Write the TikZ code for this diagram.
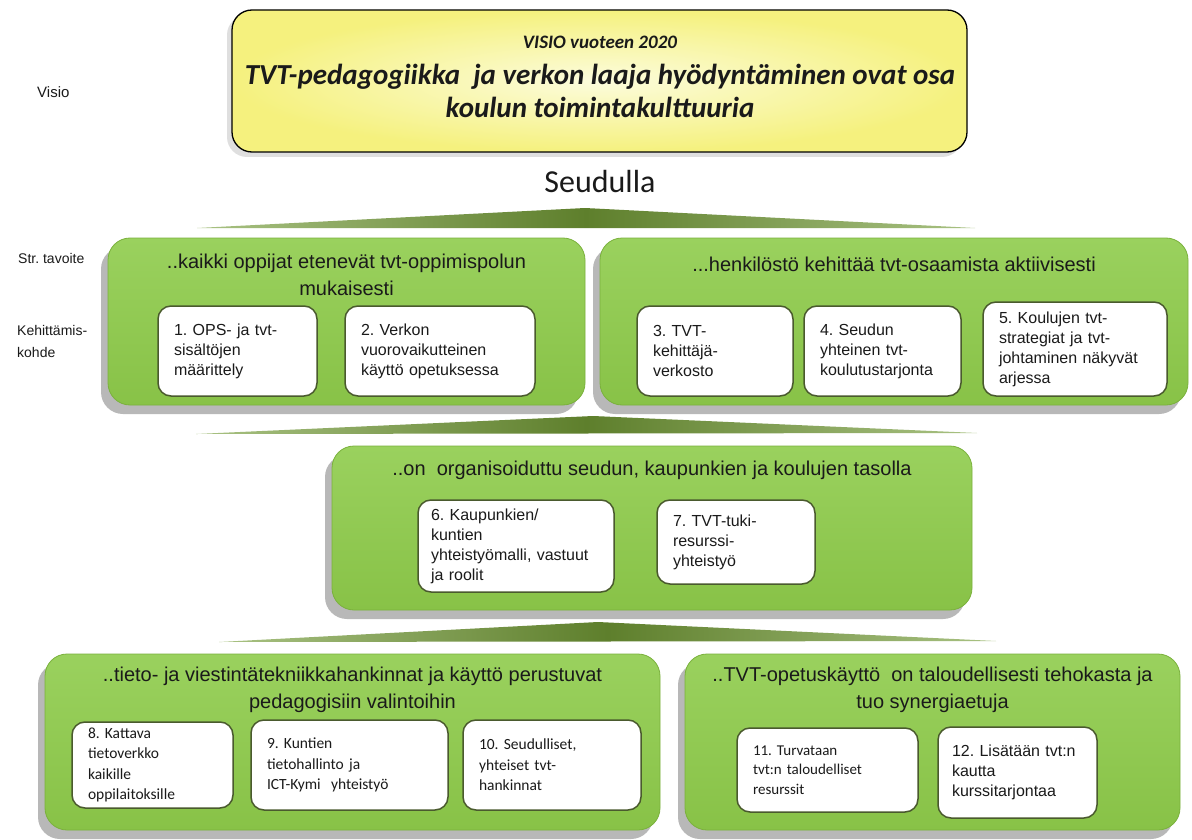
\documentclass[tikz,border=0pt]{standalone}
\usepackage{fontspec}
\setmainfont{Liberation Sans}
\newfontfamily\calib{Carlito}
\usetikzlibrary{shadows,fit}
\frenchspacing
\definecolor{gtop}{HTML}{9AD15E}
\definecolor{gbot}{HTML}{88C247}
\definecolor{gline}{HTML}{7AB13C}
\definecolor{wline}{HTML}{4A5A2E}
\definecolor{ytop}{HTML}{FCFCDC}
\definecolor{yout}{HTML}{F5F17E}
\definecolor{wedgedark}{HTML}{5E7F2C}
\definecolor{wedgelight}{HTML}{A9C283}
\definecolor{txt}{HTML}{1A1A1A}
\begin{document}
\begin{tikzpicture}[x=1pt,y=-1pt,
  greenbox/.style={draw=gline, line width=0.8pt, rounded corners=22pt,
    top color=gtop, bottom color=gbot, inner sep=0pt,
    drop shadow={shadow xshift=-7pt, shadow yshift=-9pt, opacity=0.5, fill=black!55}},
  whitebox/.style={draw=wline, line width=1.5pt, rounded corners=13pt, fill=white,
    inner xsep=16pt, inner ysep=0pt, align=left, font=\fontsize{16}{20}\selectfont, text=txt},
  calbox/.style={whitebox, font=\calib\fontsize{15.5}{20.5}\selectfont},
  gtitle/.style={anchor=north, align=center, font=\fontsize{20}{26.5}\selectfont, text=txt, inner sep=0pt},
  sidelabel/.style={anchor=west, align=left, font=\fontsize{14}{22}\selectfont, text=txt, inner sep=0pt},
  wedge/.style={left color=wedgelight, right color=wedgelight, middle color=wedgedark, draw=none}
]
\useasboundingbox[fill=white] (0,0) rectangle (1192,840);

% ---- vision box
\node[draw=black, line width=1.3pt, rounded corners=20pt, inner color=ytop, outer color=yout,
  inner sep=0pt, fit={(232,10) (967,152)},
  drop shadow={shadow xshift=-5pt, shadow yshift=-5pt, opacity=0.25, fill=black!50}] (vis) {};
\node[font=\calib\bfseries\itshape\fontsize{19}{22}\selectfont, text=txt, inner sep=0pt] (vis0) at (600,42) {VISIO vuoteen 2020};
\node[font=\calib\bfseries\itshape\fontsize{29}{33}\selectfont, text=txt, align=center, inner sep=0pt] (vis1) at (600,91)
  {TVT-pedagogiikka\ \ ja verkon\ laaja\ hyödyntäminen\ ovat osa\\koulun toimintakulttuuria};

\node[sidelabel, font=\fontsize{15}{22}\selectfont] (lvisio) at (37,92) {Visio};
\node[font=\calib\fontsize{32}{36}\selectfont, text=txt, inner sep=0pt] (seud) at (600,182) {Seudulla};

% ---- wedges
\path[wedge] (197,228) -- (585,208) -- (975,228) -- cycle;
\path[wedge] (196,434) -- (593,416) -- (977,433) -- cycle;
\path[wedge] (219,642) -- (598,622) -- (996,641) -- cycle;

% ---- row 1
\node[greenbox, fit={(108,238) (585,405)}] (g1) {};
\node[gtitle] (g1t) at (346.5,254) {..kaikki oppijat etenevät tvt-oppimispolun\\mukaisesti};
\node[whitebox, minimum width=159pt, minimum height=90pt, text width=127pt] (k1) at (237.5,351) {1. OPS- ja tvt-\\sisältöjen\\määrittely};
\node[whitebox, minimum width=190pt, minimum height=90pt, text width=158pt] (k2) at (440,351) {2. Verkon\\vuorovaikutteinen\\käyttö opetuksessa};

\node[greenbox, fit={(600,238) (1188,405)}] (g2) {};
\node[gtitle] (g2t) at (894,256.5) {...henkilöstö kehittää tvt-osaamista aktiivisesti};
\node[whitebox, minimum width=156pt, minimum height=90pt, text width=124pt] (k3) at (715,351) {3. TVT-\\kehittäjä-\\verkosto};
\node[whitebox, minimum width=157pt, minimum height=90pt, text width=125pt] (k4) at (882.5,351) {4. Seudun\\yhteinen tvt-\\koulutustarjonta};
\node[whitebox, minimum width=184pt, minimum height=94pt, text width=152pt] (k5) at (1075,349) {5. Koulujen tvt-\\strategiat ja tvt-\\johtaminen näkyvät\\arjessa};

\node[sidelabel] (lstr) at (18,258) {Str. tavoite};
\node[sidelabel] (lkeh) at (17,341) {Kehittämis-\\kohde};

% ---- row 2
\node[greenbox, fit={(332,446) (972,610)}] (g3) {};
\node[gtitle] (g3t) at (652,460.5) {..on\ \ organisoiduttu seudun, kaupunkien ja koulujen tasolla};
\node[whitebox, minimum width=196pt, minimum height=92pt, text width=170pt, inner xsep=13pt] (k6) at (516,546) {6. Kaupunkien/\\kuntien\\yhteistyömalli, vastuut\\ja roolit};
\node[whitebox, minimum width=158pt, minimum height=84pt, text width=126pt] (k7) at (736,542) {7. TVT-tuki-\\resurssi-\\yhteistyö};

% ---- row 3
\node[greenbox, fit={(45,654) (660,830)}] (g4) {};
\node[gtitle] (g4t) at (352.5,667) {..tieto- ja viestintätekniikkahankinnat ja käyttö perustuvat\\pedagogisiin valintoihin};
\node[calbox, minimum width=161pt, minimum height=86pt, text width=129pt] (k8) at (152.5,765) {8. Kattava\\tietoverkko\\kaikille\\oppilaitoksille};
\node[calbox, minimum width=197pt, minimum height=90pt, text width=165pt] (k9) at (349.5,765) {9. Kuntien\\tietohallinto ja\\ICT-Kymi\ \ yhteistyö};
\node[calbox, minimum width=178pt, minimum height=90pt, text width=146pt] (k10) at (552,765) {10. Seudulliset,\\yhteiset tvt-\\hankinnat};

\node[greenbox, fit={(685,654) (1180,830)}] (g5) {};
\node[gtitle] (g5t) at (932.5,667) {..TVT-opetuskäyttö\ \ on taloudellisesti tehokasta ja\\tuo synergiaetuja};
\node[calbox, font=\calib\fontsize{15}{19.5}\selectfont, minimum width=181pt, minimum height=84pt, text width=149pt] (k11) at (827.5,770) {11. Turvataan\\tvt:n taloudelliset\\resurssit};
\node[whitebox, minimum width=159pt, minimum height=91pt, text width=131pt, inner xsep=14pt] (k12) at (1017.5,772.5) {12. Lisätään tvt:n\\kautta\\kurssitarjontaa};
\end{tikzpicture}
\end{document}
